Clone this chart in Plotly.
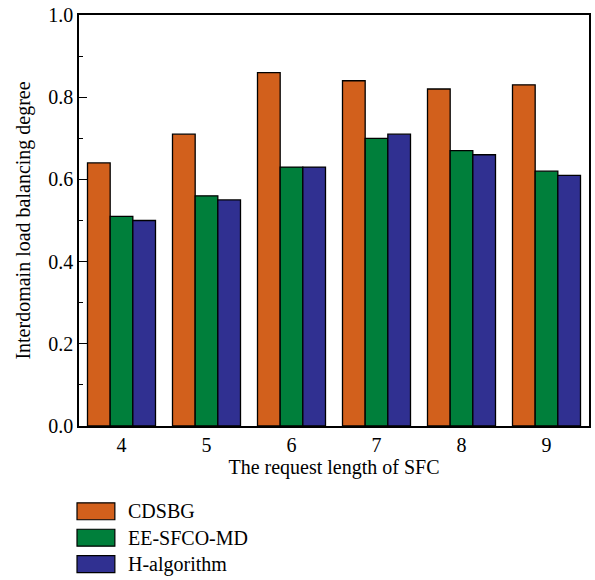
import plotly.graph_objects as go

categories = ["4", "5", "6", "7", "8", "9"]
series_names = ["CDSBG", "EE-SFCO-MD", "H-algorithm"]
cdsbg = [0.64, 0.71, 0.86, 0.84, 0.82, 0.83]
ee_sfco_md = [0.51, 0.56, 0.63, 0.70, 0.67, 0.62]
h_algorithm = [0.50, 0.55, 0.63, 0.71, 0.66, 0.61]
colors = ["#D2601C", "#007F3B", "#303091"]
y_ticks = [0.0, 0.2, 0.4, 0.6, 0.8, 1.0]
y_minor_ticks = [0.1, 0.3, 0.5, 0.7, 0.9]

FONT = "Liberation Serif"
FS = 20

W, H = 595, 580
ML, MR, MT, MB = 79, 4, 14, 154
PW, PH = W - ML - MR, H - MT - MB

fig = go.Figure()
for name, vals, col in zip(series_names, [cdsbg, ee_sfco_md, h_algorithm], colors):
    fig.add_trace(go.Bar(
        x=categories, y=vals, name=name,
        marker=dict(color=col, line=dict(color="black", width=1.3)),
        showlegend=False,
    ))

# custom legend (layout, paper coordinates)
def py(ypix):
    return (H - MB - ypix) / PH

def px(xpix):
    return (xpix - ML) / PW

for i, (name, col) in enumerate(zip(series_names, colors)):
    top = 503 + i * 26.5
    fig.add_shape(type="rect", xref="paper", yref="paper",
                  x0=px(77), x1=px(115), y0=py(top + 17), y1=py(top),
                  fillcolor=col, line=dict(color="black", width=1.2))
    fig.add_annotation(xref="paper", yref="paper", x=px(126), y=py(top + 8.5),
                       text=name, showarrow=False, xanchor="left", yanchor="middle",
                       font=dict(family=FONT, size=FS, color="black"))

fig.update_layout(
    width=W, height=H,
    margin=dict(l=ML, r=MR, t=MT, b=MB),
    plot_bgcolor="white", paper_bgcolor="white",
    barmode="group", bargap=0.2, bargroupgap=0,
    font=dict(family=FONT, size=FS, color="black"),
)
fig.update_xaxes(
    type="category", range=[-0.5, 5.5],
    showline=True, linecolor="black", linewidth=1.5, mirror=True,
    ticks="", showgrid=False,
    title=dict(text="The request length of SFC", standoff=3, font=dict(family=FONT, size=FS)),
    tickfont=dict(family=FONT, size=FS),
)
fig.update_yaxes(
    range=[0, 1.0], tickmode="array", tickvals=y_ticks,
    ticktext=[f"{v:.1f}" for v in y_ticks],
    ticklabeloverflow="allow",
    showline=True, linecolor="black", linewidth=1.5, mirror=True,
    ticks="inside", ticklen=8, tickwidth=1.3, tickcolor="black",
    minor=dict(tickmode="array", tickvals=y_minor_ticks, ticks="inside",
               ticklen=4, tickwidth=1.3, tickcolor="black"),
    showgrid=False, zeroline=False,
    title=dict(text="Interdomain load balancing degree", standoff=12, font=dict(family=FONT, size=FS)),
    tickfont=dict(family=FONT, size=FS),
)

fig.write_html("out.html", config={"displayModeBar": False},
               post_script="document.body.style.margin='0';")
